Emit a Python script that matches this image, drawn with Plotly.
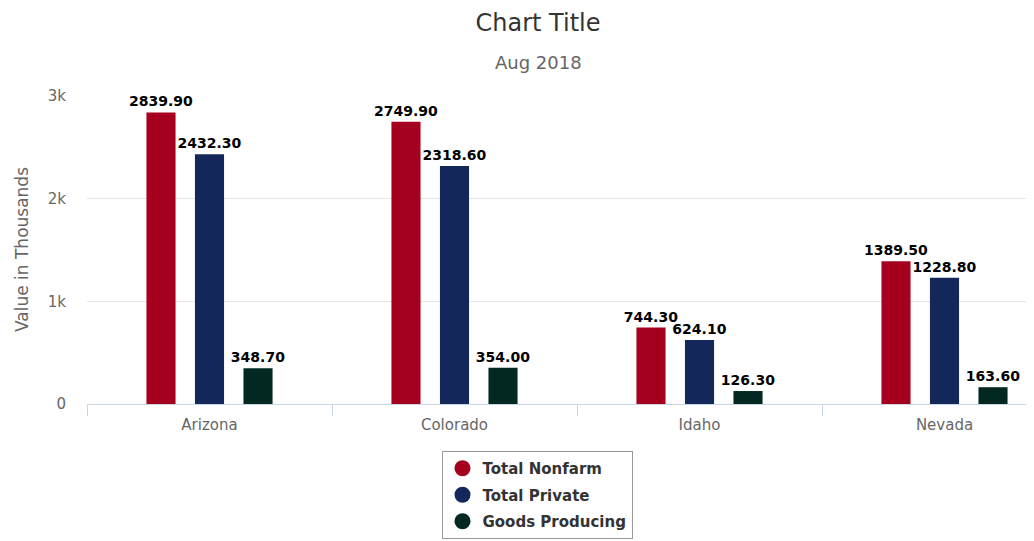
import plotly.graph_objects as go

states = ["Arizona", "Colorado", "Idaho", "Nevada"]
total_nonfarm = [2839.9, 2749.9, 744.3, 1389.5]
total_private = [2432.3, 2318.6, 624.1, 1228.8]
goods_producing = [348.7, 354.0, 126.3, 163.6]
series_names = ["Total Nonfarm", "Total Private", "Goods Producing"]
colors = ["#A6001F", "#13275A", "#032822"]
y_tickvals = [0, 1000, 2000, 3000]
y_ticktext = ["0", "1k", "2k", "3k"]

FONT = "DejaVu Sans"
outline = "1px 1px 1px #fff, -1px -1px 1px #fff, 1px -1px 1px #fff, -1px 1px 1px #fff"

# page body has an 8px margin; compensate
OFF = 8
W, H = 1034 - OFF, 541 - OFF
PL = 87 - OFF
PT = 96 - OFF
PH = 308
PW = W - PL

fig = go.Figure()
for name, vals, col in zip(series_names, [total_nonfarm, total_private, goods_producing], colors):
    fig.add_trace(go.Bar(
        x=states, y=vals, name=name, marker=dict(color=col, line=dict(width=0)),
        texttemplate="%{y:.2f}", textposition="outside", constraintext="none",
        cliponaxis=False, showlegend=False,
        textfont=dict(family=FONT, size=14, color="#000", weight="bold", shadow=outline),
    ))
for i, (name, col) in enumerate(zip(series_names, colors)):
    fig.add_trace(go.Scatter(
        x=[None], y=[None], mode="markers", name=name, legendgroup=name,
        marker=dict(color=col, size=16, symbol="circle"), showlegend=True,
    ))

def px_x(x):
    return (x - 87) / PW

def px_y(y):
    return (404 - y) / PH

fig.update_layout(
    width=W, height=H,
    margin=dict(l=PL, r=0, t=PT, b=H - PT - PH, pad=0),
    paper_bgcolor="white", plot_bgcolor="white",
    barmode="group", bargap=0.406, bargroupgap=0.40,
    title=dict(text="Chart Title", x=(538 - OFF) / W, xanchor="center", y=1 - 15 / H,
               yanchor="middle", font=dict(family=FONT, size=24, color="#333")),
    annotations=[
        dict(text="Aug 2018", xref="paper", yref="paper", x=px_x(538), y=px_y(63),
             xanchor="center", yanchor="middle", showarrow=False,
             font=dict(family=FONT, size=18, color="#666")),
        dict(text="Value in Thousands", xref="paper", yref="paper", x=px_x(22), y=px_y(250),
             xanchor="center", yanchor="middle", showarrow=False, textangle=-90,
             font=dict(family=FONT, size=17, color="#666")),
    ],
    xaxis=dict(range=[-0.5, -0.5 + PW / 245], showline=True, linecolor="#ccd6eb", linewidth=1,
               ticks="outside", tickson="boundaries", ticklen=11, tickcolor="#ccd6eb",
               ticklabelstandoff=7,
               tickfont=dict(family=FONT, size=15, color="#666"), showgrid=False, fixedrange=True),
    yaxis=dict(range=[0, 3000], tickvals=y_tickvals, ticktext=y_ticktext, showgrid=True,
               gridcolor="#e6e6e6", zeroline=False, showline=False, ticklabelstandoff=20,
               tickfont=dict(family=FONT, size=15, color="#666")),
    legend=dict(orientation="v", x=px_x(537), xanchor="center", y=px_y(451), yanchor="top",
                bordercolor="#999", borderwidth=1, bgcolor="white", tracegroupgap=4,
                font=dict(family=FONT, size=15, color="#333", weight="bold")),
)

fig.write_html("out.html")
